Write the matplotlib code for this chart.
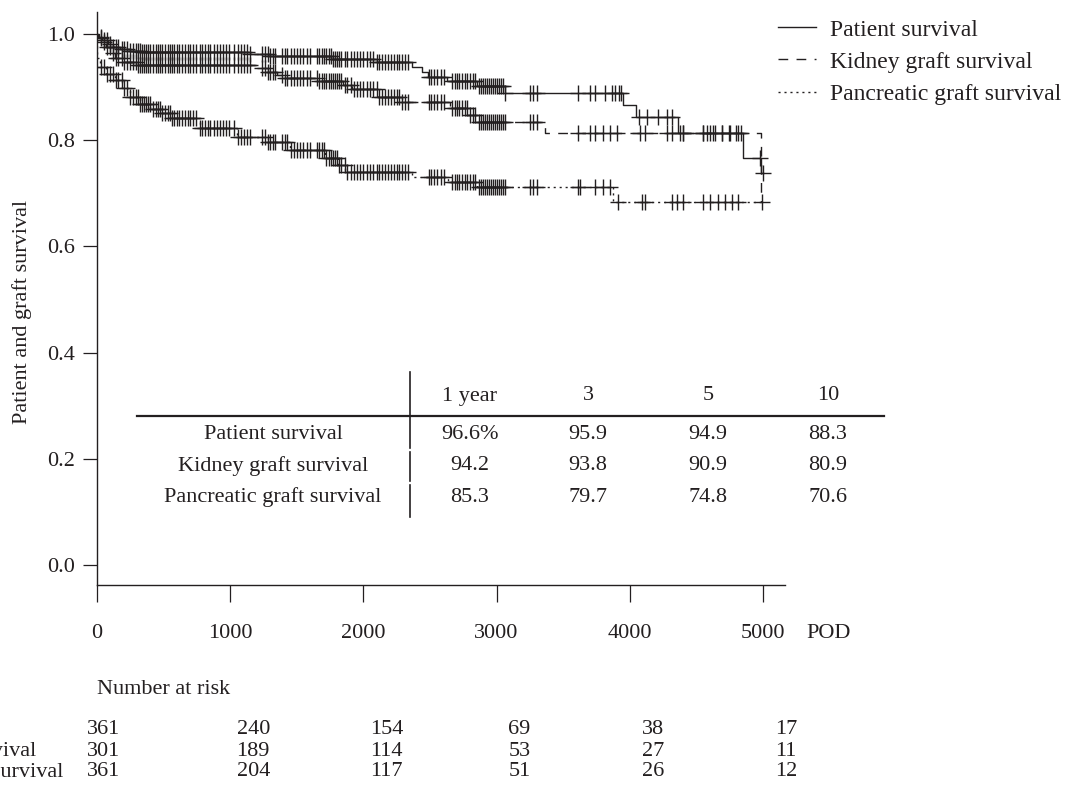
import matplotlib
matplotlib.use('Agg')
import numpy as np
import matplotlib.pyplot as plt
from matplotlib.transforms import offset_copy, blended_transform_factory

plt.rcParams['font.family'] = ['Liberation Serif', 'DejaVu Serif']
plt.rcParams['font.size'] = 16
INK = '#231f20'

# Kaplan-Meier steps (day, survival after the drop)
patient_t = [0, 15, 40, 80, 120, 170, 250, 330, 1150, 1300, 1760, 2100, 2365, 2440, 2485, 2630, 2850,
             3060, 3950, 4050, 4360, 4850, 4985]
patient_s = [1.0, 0.994, 0.988, 0.982, 0.976, 0.972, 0.968, 0.966, 0.962, 0.958, 0.952, 0.947, 0.938,
             0.928, 0.919, 0.912, 0.902, 0.889, 0.866, 0.844, 0.813, 0.766, 0.738]
patient_end = 5000

kidney_t = [0, 10, 40, 70, 100, 135, 200, 300, 1210, 1280, 1350, 1410, 1670, 1845, 1915, 2110, 2290,
            2650, 2785, 2855, 3363, 4985]
kidney_s = [1.0, 0.993, 0.985, 0.975, 0.965, 0.955, 0.948, 0.942, 0.936, 0.929, 0.923, 0.917, 0.911,
            0.904, 0.897, 0.882, 0.872, 0.861, 0.847, 0.834, 0.813, 0.684]
kidney_end = 4985

pancreas_t = [0, 2, 25, 70, 135, 190, 250, 320, 400, 490, 550, 770, 1050, 1280, 1450, 1712, 1810,
              1862, 2365, 2635, 2853, 3876]
pancreas_s = [1.0, 0.955, 0.938, 0.925, 0.913, 0.898, 0.882, 0.868, 0.858, 0.851, 0.842, 0.823,
              0.806, 0.797, 0.782, 0.766, 0.753, 0.740, 0.731, 0.721, 0.712, 0.684]
pancreas_end = 5000

# censored days (shared follow-up ends in the first years, then per curve)
censor_early = [30, 55, 75, 95, 120, 140, 160, 185, 205, 225, 250, 270, 290, 305, 320, 335, 350, 365,
                380, 395, 420, 440, 460, 475, 490, 510, 530, 545, 560, 580, 600, 615, 640, 660, 680,
                700, 720, 745, 770, 790, 810, 830, 850, 875, 900, 920, 945, 965, 990, 1030, 1060,
                1080, 1100, 1125, 1150, 1240, 1260, 1280, 1300, 1320, 1340, 1390, 1410, 1430, 1455,
                1480, 1500, 1525, 1550, 1575, 1600, 1650, 1670, 1690, 1705, 1720, 1740, 1755, 1770,
                1785, 1800, 1815, 1830, 1860, 1880, 1905, 1930, 1950, 1975, 2000, 2025, 2050, 2075,
                2100, 2120, 2140, 2165, 2185, 2205, 2230, 2250, 2270, 2290, 2315, 2335, 2490, 2510,
                2530, 2555, 2580, 2605, 2665, 2685, 2705, 2720, 2740, 2760, 2780, 2800, 2820, 2835,
                2865, 2880, 2895, 2910, 2925, 2940, 2955, 2970, 2985, 3000, 3015, 3030, 3045, 3060]
patient_censor_late = [3250, 3275, 3300, 3611, 3700, 3739, 3814, 3866, 3889, 3919, 3935, 4069, 4129,
                       4212, 4279, 4317, 4400, 4550, 4580, 4625, 4692, 4752, 4812, 4977, 5000]
kidney_censor_late = [3250, 3275, 3300, 3611, 3700, 3739, 3800, 3851, 3904, 4077, 4114, 4279, 4317,
                      4377, 4400, 4550, 4600, 4640, 4692, 4745, 4797, 4835]
pancreas_censor_late = [3250, 3275, 3300, 3611, 3625, 3739, 3800, 3851, 3911, 4092, 4114, 4317, 4354,
                        4400, 4550, 4602, 4662, 4715, 4767, 4812, 4990]

# survival table
table_cols = ['1 year', '3', '5', '10']
table_rows = ['Patient survival', 'Kidney graft survival', 'Pancreatic graft survival']
table_vals = [['96.6%', '95.9', '94.9', '88.3'],
              ['94.2', '93.8', '90.9', '80.9'],
              ['85.3', '79.7', '74.8', '70.6']]

# number at risk
risk_days = [0, 1000, 2000, 3000, 4000, 5000]
risk_patient = [361, 240, 154, 69, 38, 17]
risk_kidney = [301, 189, 114, 53, 27, 11]
risk_pancreas = [361, 204, 117, 51, 26, 12]

W, H = 1076, 790
fig = plt.figure(figsize=(W / 100, H / 100), dpi=100)
ax = fig.add_axes([97 / W, 1 - 585 / H, (785 - 97) / W, (585 - 12) / H])


def step_value(ts, ss, days):
    idx = np.searchsorted(np.array(ts), np.array(days), side='right') - 1
    return np.array(ss)[idx]


curves = [
    (patient_t, patient_s, patient_end, censor_early + patient_censor_late, '-', 'Patient survival'),
    (kidney_t, kidney_s, kidney_end, censor_early + kidney_censor_late, (0, (7, 6)), 'Kidney graft survival'),
    (pancreas_t, pancreas_s, pancreas_end, censor_early + pancreas_censor_late, (0, (1.5, 2.8)),
     'Pancreatic graft survival'),
]
handles = []
for ts, ss, end, cens, ls, lab in curves:
    h, = ax.step(ts + [end], ss + [ss[-1]], where='post', color=INK, lw=1.0, ls=ls, label=lab)
    handles.append(h)
    ax.plot(cens, step_value(ts, ss, cens), '+', color=INK, ms=11, mew=1.0)

ax.set_xlim(0, 5165)
ax.set_ylim(-0.0377, 1.0414)
ax.set_xticks(risk_days)
ax.set_yticks([0.0, 0.2, 0.4, 0.6, 0.8, 1.0])
ax.set_yticklabels(['0.0', '0.2', '0.4', '0.6', '0.8', '1.0'])
for s in ['top', 'right']:
    ax.spines[s].set_visible(False)
for s in ['left', 'bottom']:
    ax.spines[s].set_color(INK)
    ax.spines[s].set_linewidth(1.0)
ax.tick_params(axis='x', direction='out', length=12, width=0.9, pad=16, colors=INK, labelsize=16)
ax.tick_params(axis='y', direction='out', length=10, width=0.9, pad=6, colors=INK, labelsize=16)
ax.set_ylabel('Patient and graft survival', fontsize=16, color=INK)
ax.yaxis.set_label_coords((32 - 97) / 688, (585 - 312) / 573)
fig.text(829 / 1076, 1 - 634 / H, 'POD', ha='center', va='center', fontsize=16, color=INK)

leg = ax.legend(handles=handles, loc='upper left', bbox_to_anchor=(778 / W, 1 - 19 / H),
                bbox_transform=fig.transFigure, frameon=False, fontsize=17, handlelength=1.6,
                handletextpad=0.62, labelspacing=0.45, borderpad=0, borderaxespad=0)
for t in leg.get_texts():
    t.set_color(INK)


def fx(px):
    return px / W


def fy(py):
    return 1 - py / H


# survival table inside the plot
col_x = [470, 588, 708, 828]
row_y = [434, 466, 497]
for cx, c in zip(col_x, table_cols):
    fig.text(fx(cx), fy(396), c, ha='center', va='center', fontsize=16, color=INK)
for ry, rlab, vals in zip(row_y, table_rows, table_vals):
    fig.text(fx(273), fy(ry), rlab, ha='center', va='center', fontsize=16, color=INK)
    for cx, v in zip(col_x, vals):
        fig.text(fx(cx), fy(ry), v, ha='center', va='center', fontsize=16, color=INK)
fig.add_artist(plt.Line2D([fx(137), fx(884)], [fy(416), fy(416)], color=INK, lw=1.6))
for y0, y1 in [(372, 448), (452, 481), (485, 517)]:
    fig.add_artist(plt.Line2D([fx(410), fx(410)], [fy(y0), fy(y1)], color=INK, lw=1.2))

# number at risk
fig.text(fx(97), fy(690), 'Number at risk', ha='left', va='center', fontsize=16, color=INK)
blend = blended_transform_factory(ax.transData, fig.transFigure)
risk_dx_px = [7, 23, 23, 23, 23, 23]
for ry, rlab, counts in zip([730, 751, 772], table_rows, [risk_patient, risk_kidney, risk_pancreas]):
    fig.text(fx(-154), fy(ry), rlab, ha='left', va='center', fontsize=16, color=INK)
    for d, n, dx in zip(risk_days, counts, risk_dx_px):
        tr = offset_copy(blend, fig=fig, x=dx, y=0, units='dots')
        ax.text(d, fy(ry), str(n), transform=tr, ha='center', va='center', fontsize=16,
                color=INK, clip_on=False)

fig.savefig('out.png', dpi=100)
